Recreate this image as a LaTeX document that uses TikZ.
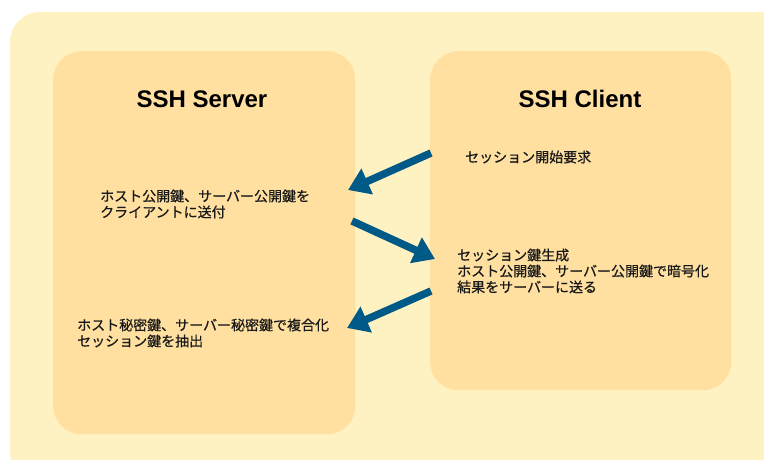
\documentclass[tikz,border=0pt]{standalone}
\usepackage{fontspec}
\setmainfont{Liberation Sans}
\newfontfamily\jp[FakeBold=0.6]{Noto Sans CJK JP}
\usetikzlibrary{arrows.meta}
\definecolor{outerc}{HTML}{FFF2C2}
\definecolor{boxc}{HTML}{FFE0A0}
\definecolor{arrc}{HTML}{005A87}
\tikzset{
  panel/.style={fill=boxc, draw=none, rounded corners=28pt},
  title/.style={font=\fontsize{24}{28}\selectfont\bfseries, text=black},
  jtxt/.style={font=\jp\fontsize{14}{16}\selectfont, text=black!90, align=left, anchor=west, inner sep=0pt},
  flow/.style={draw=arrc, line width=7.5pt, -{Triangle[length=21pt,width=27pt]}}
}
\begin{document}
\begin{tikzpicture}[x=1pt,y=-1pt]
\useasboundingbox (0,0) rectangle (764,460);
\fill[white] (0,0) rectangle (764,460);
\fill[outerc, rounded corners=30pt] (10,12) rectangle (790,482);
\node[panel, minimum width=302pt, minimum height=383pt, anchor=north west] (server) at (53,51) {};
\node[panel, minimum width=301pt, minimum height=339pt, anchor=north west] (client) at (430,51) {};
\node[title] (st) at (202,99) {SSH Server};
\node[title] (ct) at (580,99) {SSH Client};
\node[jtxt] (s1) at (100,204) {ホスト公開鍵、サーバー公開鍵を\\クライアントに送付};
\node[jtxt] (s2) at (77,333) {ホスト秘密鍵、サーバー秘密鍵で複合化\\セッション鍵を抽出};
\node[jtxt] (c1) at (465,157) {セッション開始要求};
\node[jtxt] (c2) at (457,271) {セッション鍵生成\\ホスト公開鍵、サーバー公開鍵で暗号化\\結果をサーバーに送る};
\coordinate (a1s) at (431,153);
\coordinate (a1e) at (348,190);
\coordinate (a2s) at (352,221);
\coordinate (a2e) at (435,259);
\coordinate (a3s) at (431,291);
\coordinate (a3e) at (347,328);
\draw[flow] (a1s) -- (a1e);
\draw[flow] (a2s) -- (a2e);
\draw[flow] (a3s) -- (a3e);
\end{tikzpicture}
\end{document}
